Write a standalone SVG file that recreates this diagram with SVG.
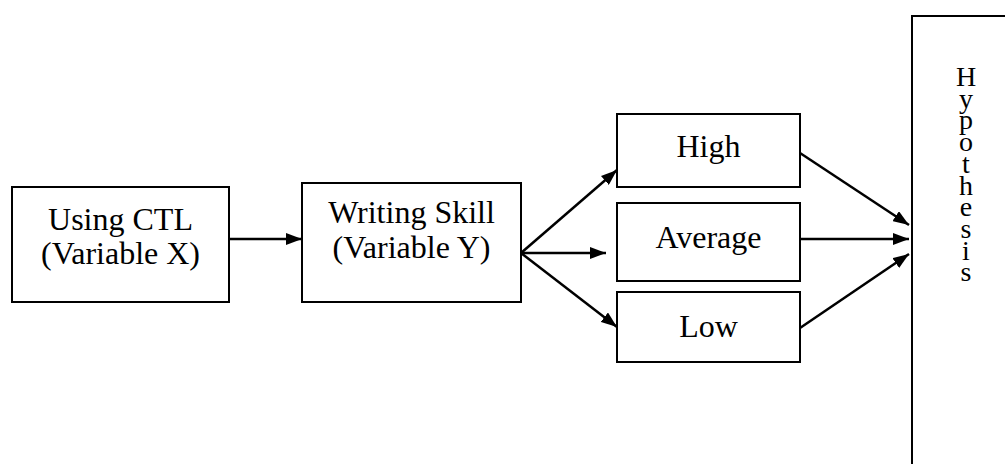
<svg xmlns="http://www.w3.org/2000/svg" width="1005" height="464" viewBox="0 0 1005 464">
<style>
.box{fill:#fff;stroke:#000;stroke-width:2}
.t{font-family:"Liberation Serif","Times New Roman",serif;font-size:32px;fill:#000;text-anchor:middle}
.h{font-family:"Liberation Serif","Times New Roman",serif;font-size:28px;fill:#000;writing-mode:vertical-rl;text-orientation:upright;letter-spacing:-9.3px}
.c{stroke:#000;stroke-width:2.5;fill:none;marker-end:url(#ah)}
</style>
<defs>
<marker id="ah" markerWidth="16" markerHeight="12" refX="16" refY="6" orient="auto" markerUnits="userSpaceOnUse" viewBox="0 0 16 12">
<path d="M0,0 L16,6 L0,12 z" fill="#000"/>
</marker>
</defs>
<rect width="1005" height="464" fill="#fff"/>
<g id="n1"><rect class="box" x="12" y="187" width="217" height="115"/>
<text class="t" x="120.5" y="230">Using CTL</text><text class="t" x="120.5" y="264">(Variable X)</text></g>
<g id="n2"><rect class="box" x="302" y="183" width="219" height="119"/>
<text class="t" x="411.5" y="223">Writing Skill</text><text class="t" x="411.5" y="258">(Variable Y)</text></g>
<g id="high"><rect class="box" x="617" y="114" width="183" height="73"/><text class="t" x="708.5" y="157">High</text></g>
<g id="avg"><rect class="box" x="617" y="203" width="183" height="78"/><text class="t" x="708.5" y="248">Average</text></g>
<g id="low"><rect class="box" x="617" y="292" width="183" height="70"/><text class="t" x="708.5" y="337">Low</text></g>
<g id="hyp"><path d="M1010,16 H912 V470" fill="none" stroke="#000" stroke-width="2"/>
<text class="h" x="966" y="61">Hypothesis</text></g>
<g id="connectors">
<line class="c" x1="229" y1="239" x2="302" y2="239"/>
<line class="c" x1="521" y1="253" x2="617" y2="170"/>
<line class="c" x1="521" y1="253" x2="606" y2="253"/>
<line class="c" x1="521" y1="253" x2="617" y2="327"/>
<line class="c" x1="800" y1="153" x2="909" y2="225"/>
<line class="c" x1="800" y1="239" x2="909" y2="239"/>
<line class="c" x1="800" y1="328" x2="909" y2="254"/>
</g>
</svg>
